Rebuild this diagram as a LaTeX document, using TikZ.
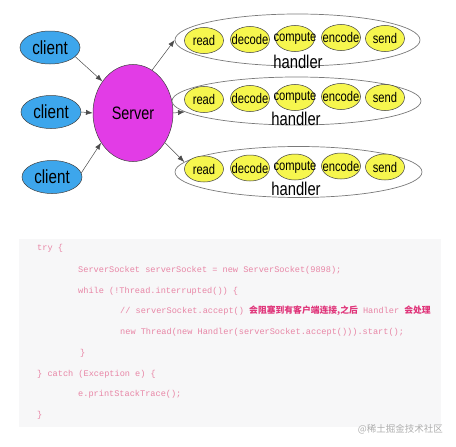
\documentclass[tikz,border=0pt]{standalone}
\usepackage{fontspec}
\usepackage{graphicx}
\usepackage{xcolor}
\usetikzlibrary{arrows.meta, shapes.geometric}
\setmainfont{Liberation Sans}
\setmonofont{Liberation Mono}
\newfontfamily\cjkfont{Noto Sans CJK SC}
\definecolor{clientBlau}{HTML}{3DA6EC}
\definecolor{serverMagenta}{HTML}{E23CE6}
\definecolor{stageGelb}{HTML}{F6F64E}
\definecolor{rimGrau}{HTML}{7A7A7A}
\definecolor{codeGrund}{HTML}{F7F7F8}
\definecolor{codeRosa}{HTML}{E886A6}
\definecolor{cjkRosa}{HTML}{E0357A}
\definecolor{markGrau}{HTML}{ADADAD}
\newcommand{\narrowtext}[1]{\scalebox{0.8}[1]{#1}}
\newcommand{\stagetext}[1]{\makebox[0pt]{\narrowtext{#1}}}

\begin{document}
\begin{tikzpicture}[x=1pt, y=-1pt,
  every node/.style={inner sep=0pt},
  client/.style={ellipse, draw=black!75, line width=0.5pt,
                 fill=clientBlau, minimum width=60pt, minimum height=33pt,
                 font=\fontsize{19}{19}\selectfont},
  server/.style={ellipse, draw=black!75, line width=0.5pt,
                 fill=serverMagenta, minimum width=80pt, minimum height=97pt,
                 font=\fontsize{18}{18}\selectfont},
  handler/.style={ellipse, draw=rimGrau, line width=0.7pt, fill=white,
                  minimum width=247pt, minimum height=51pt},
  stage/.style={ellipse, draw=black!75, line width=0.5pt,
                fill=stageGelb, minimum width=39pt, minimum height=26pt,
                font=\fontsize{14}{14}\selectfont},
  hlabel/.style={font=\fontsize{18.5}{18.5}\selectfont},
  arrow/.style={-{Latex[length=2.4mm, width=1.8mm]}, draw=black!70,
                line width=0.5pt},
  code/.style={anchor=base west, text=codeRosa,
               font=\ttfamily\fontsize{8.6}{8.6}\selectfont},
]
\useasboundingbox (0,0) rectangle (456,447);

% --- Clients and the server -----------------------------------------
\node[client] (clientA) at (50,47.5) {\narrowtext{client}};
\node[client] (clientB) at (51,112)  {\narrowtext{client}};
\node[client] (clientC) at (52,177)  {\narrowtext{client}};
\node[server] (server)  at (133,113) {\narrowtext{Server}};

% --- Handler rings, each holding the five stages ---------------------
\node[handler, minimum width=245pt, minimum height=52pt]
  (handlerA) at (297.5,40) {};
\node[handler, minimum width=249pt, minimum height=48pt]
  (handlerB) at (296.5,101) {};
\node[handler] (handlerC) at (298.5,172) {};

\foreach \row/\y in {A/40.5, B/99.5, C/169}
{
  \node[stage] (read\row)    at (204,\y)   {\stagetext{read}};
  \node[stage] (decode\row)  at (250,\y-1) {\stagetext{decode}};
  \node[stage] (compute\row) at (295,\y-2) {\stagetext{compute}};
  \node[stage] (encode\row)  at (341,\y-3) {\stagetext{encode}};
  \node[stage] (send\row)    at (385,\y-2) {\stagetext{send}};
}

\node[hlabel] (labelA) at (298,62)  {\narrowtext{handler}};
\node[hlabel] (labelB) at (296,119) {\narrowtext{handler}};
\node[hlabel] (labelC) at (296,189) {\narrowtext{handler}};

% Clients connect to the server, the server hands off to handlers.
\draw[arrow] (clientA.-20)  -- (server.134);
\draw[arrow] (clientB.east) -- (server.west);
\draw[arrow] (clientC.8)    -- (server.-137);
\draw[arrow] (server.66)    -- (handlerA.west);
\draw[arrow] (server.east)  -- (handlerB);
\draw[arrow] (server.-43)   -- (handlerC.175);

% --- Code block -------------------------------------------------------
\fill[codeGrund] (19,239) rectangle (441,427);

\node[code] (tryline)     at (37,250)  {try \{};
\node[code] (socketline)  at (78,272)  {ServerSocket serverSocket = new ServerSocket(9898);};
\node[code] (whileline)   at (78,293)  {while (!Thread.interrupted()) \{};
\node[code] (commentline) at (120,313)
  {// serverSocket.accept() {\cjkfont\bfseries\color{cjkRosa}%
   \fontsize{8.8}{8.8}\selectfont 会阻塞到有客户端连接,之后} Handler
   {\cjkfont\bfseries\color{cjkRosa}\fontsize{8.8}{8.8}\selectfont 会处理}};
\node[code] (threadline)  at (120,334) {new Thread(new Handler(serverSocket.accept())).start();};
\node[code] (closewhile)  at (80,355)  {\}};
\node[code] (catchline)   at (37,376)  {\} catch (Exception e) \{};
\node[code] (traceline)   at (78,396)  {e.printStackTrace();};
\node[code] (closecatch)  at (37,417)  {\}};

% Source mark under the block.
\node[anchor=east, text=markGrau, font=\cjkfont\fontsize{9.5}{9.5}\selectfont]
  (mark) at (443,429) {@稀土掘金技术社区};
\end{tikzpicture}
\end{document}
